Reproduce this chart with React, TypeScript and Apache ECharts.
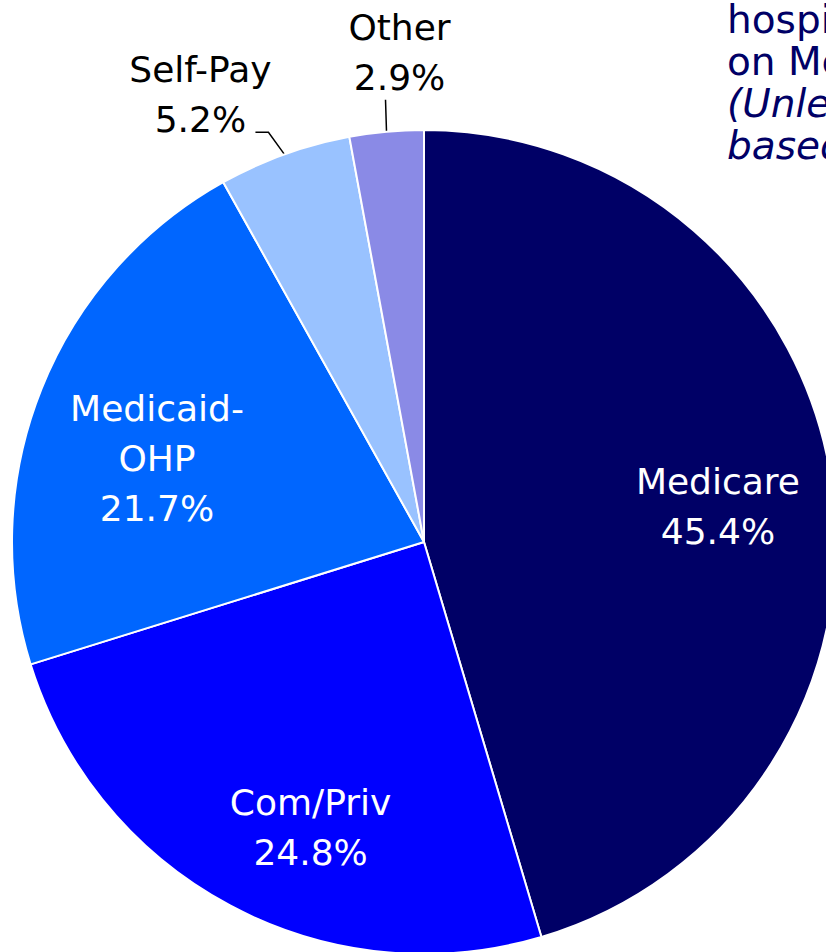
import React, { useEffect, useRef } from "react";
import * as echarts from "echarts";

const categories = ["Medicare", "Com/Priv", "Medicaid-\nOHP", "Self-Pay", "Other"];
const shares = [45.4, 24.8, 21.7, 5.2, 2.9];
const colors = ["#000066", "#0000FF", "#0066FF", "#99C2FF", "#8A8AE6"];
const titleLines = ["hospital discharges", "on Medicare"];
const noteLines = ["(Unless otherwise noted,", "based on inpatient data)"];

const FONT = "'DejaVu Sans', Verdana, sans-serif";
const CENTER = [424, 542];
const RADIUS = 412;
const INNER_LABEL_NUDGE: Record<number, [number, number]> = { 0: [3, 7], 1: [25, 26], 2: [6, 26] };

export default function App() {
  const ref = useRef<HTMLDivElement>(null);
  useEffect(() => {
    document.body.style.margin = "0";
    const chart = echarts.init(ref.current!, null, { renderer: "svg" });
    const data = categories.map((name, i) => ({
      name,
      value: shares[i],
      itemStyle: { color: colors[i] },
    }));
    chart.setOption({
      animation: false,
      backgroundColor: "#ffffff",
      graphic: [
        {
          type: "text",
          left: 727,
          top: -2,
          style: {
            text: titleLines.join("\n"),
            font: `39px ${FONT}`,
            lineHeight: 42,
            fill: "#000066",
          },
        },
        {
          type: "text",
          left: 727,
          top: 82,
          style: {
            text: noteLines.join("\n"),
            font: `italic 39px ${FONT}`,
            lineHeight: 42,
            fill: "#000066",
          },
        },
      ],
      series: [
        {
          type: "pie",
          center: CENTER,
          radius: [0, RADIUS],
          startAngle: 90,
          clockwise: true,
          silent: true,
          itemStyle: { borderColor: "#ffffff", borderWidth: 2 },
          label: {
            show: true,
            position: "outside",
            formatter: (p: any) => `${p.name}\n${p.value.toFixed(1)}%`,
            fontFamily: FONT,
            fontSize: 36,
            lineHeight: 50,
            color: "#000000",
            overflow: "none",
          },
          labelLine: { show: true, lineStyle: { color: "#000000", width: 1.5 } },
          labelLayout: (p: any) => {
            const pts = p.labelLinePoints;
            if (!pts) return {};
            const [x0, y0] = pts[0];
            if (p.dataIndex === 4) {
              return {
                x: x0 + 13,
                y: y0 - 79,
                align: "center",
                verticalAlign: "middle",
                labelLinePoints: [[x0, y0], [x0 - 1, y0 - 32], [x0 - 1, y0 - 32]],
              };
            }
            return {
              x: x0 - 84,
              y: y0 - 60,
              align: "center",
              verticalAlign: "middle",
              width: 200,
              labelLinePoints: [[x0, y0], [x0 - 16, y0 - 22], [x0 - 29, y0 - 22]],
            };
          },
          data: data.map((d, i) =>
            i < 3 ? { ...d, label: { show: false }, labelLine: { show: false } } : d
          ),
        },
        {
          type: "pie",
          center: CENTER,
          radius: [170, RADIUS],
          startAngle: 90,
          clockwise: true,
          silent: true,
          itemStyle: { color: "transparent", borderWidth: 0 },
          label: {
            show: true,
            position: "inside",
            formatter: (p: any) => `${p.name}\n${p.value.toFixed(1)}%`,
            fontFamily: FONT,
            fontSize: 36,
            lineHeight: 50,
            color: "#ffffff",
            align: "center",
          },
          labelLine: { show: false },
          labelLayout: (p: any) => {
            const n = INNER_LABEL_NUDGE[p.dataIndex];
            return n ? { dx: n[0], dy: n[1] } : {};
          },
          data: data.map((d, i) => ({
            name: d.name,
            value: d.value,
            itemStyle: { color: "transparent" },
            label: { show: i < 3 },
          })),
        },
      ],
    });
    return () => chart.dispose();
  }, []);
  return <div ref={ref} style={{ width: 826, height: 952 }} />;
}
